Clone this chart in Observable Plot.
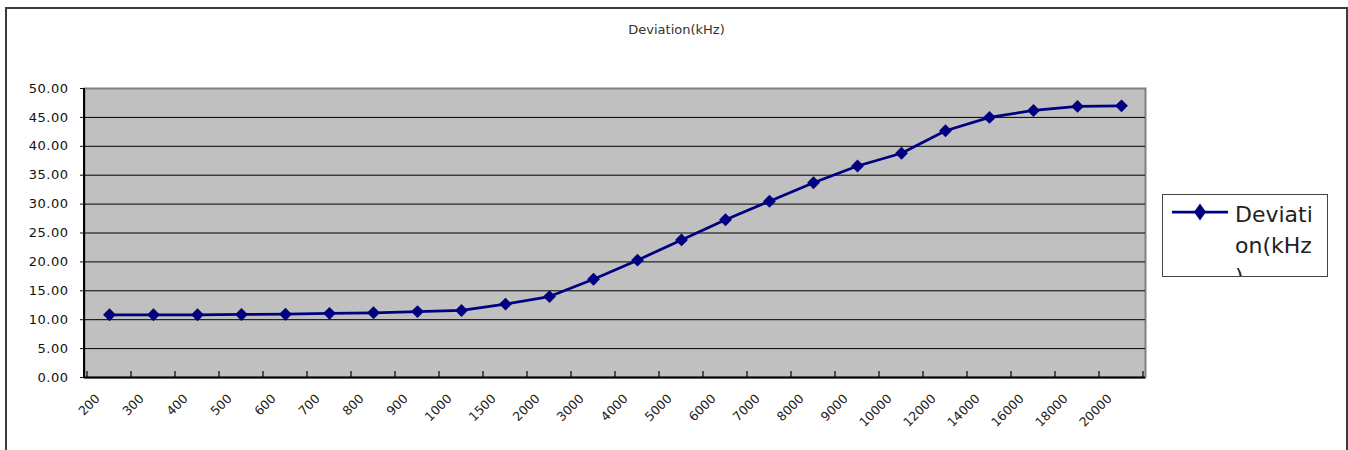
<!DOCTYPE html>
<html><head><meta charset="utf-8">
<script src="https://cdn.jsdelivr.net/npm/d3@7"></script>
<script src="https://cdn.jsdelivr.net/npm/@observablehq/plot@0.6"></script>
<style>
html,body{margin:0;padding:0;background:#fff;}
#wrap{position:relative;width:1348px;height:450px;overflow:hidden;font-family:"DejaVu Sans",sans-serif;}
#outer{position:absolute;left:5px;top:7px;width:1343px;height:470px;border:2px solid #3c3c3c;box-sizing:border-box;}
#title{position:absolute;left:5px;width:1343px;top:22px;text-align:center;font-size:13px;line-height:16px;color:#333;}
#chart{position:absolute;left:0;top:0;}
#legend{position:absolute;left:1162px;top:194px;width:166px;height:83px;box-sizing:border-box;border:1px solid #444;background:#fff;overflow:hidden;}
#legend svg{position:absolute;left:0;top:0;}
#legend .lbl{position:absolute;left:72px;top:4px;width:81px;font-size:22px;line-height:31px;color:#222;word-break:normal;line-break:anywhere;overflow-wrap:anywhere;}
#chart g[aria-label="y-axis tick label"] text{letter-spacing:0.5px;}
</style>
</head>
<body>
<div id="wrap">
  <div id="outer"></div>
  <div id="title"></div>
  <div id="chart"></div>
  <div id="legend"></div>
</div>
<script>
const freqLabels = ["200","300","400","500","600","700","800","900","1000","1500","2000","3000","4000","5000","6000","7000","8000","9000","10000","12000","14000","16000","18000","20000"];
const deviation = [10.85,10.85,10.85,10.9,10.95,11.1,11.2,11.4,11.6,12.7,14.0,17.0,20.3,23.8,27.3,30.5,33.7,36.6,38.8,42.7,45.0,46.2,46.9,47.0];
const yTicks = [0,5,10,15,20,25,30,35,40,45,50];
const gridValues = [5,10,15,20,25,30,35,40,45];
const titleText = "Deviation(kHz)";
const seriesName = "Deviation(kHz)";
const lineColor = "#000080";

const data = freqLabels.map((f, i) => ({freq: f, dev: deviation[i]}));

function axisFrame(index, scales, values, dims) {
  const x = scales.x;
  const bw = x.bandwidth();
  const y0 = dims.height - dims.marginBottom;
  const g = d3.create("svg:g").attr("stroke", "#000").attr("fill", "none");
  g.append("line")
    .attr("x1", dims.marginLeft).attr("x2", dims.marginLeft)
    .attr("y1", dims.marginTop).attr("y2", y0 + 1)
    .attr("stroke-width", 2);
  const bounds = freqLabels.map(c => x(c)).concat([x(freqLabels[freqLabels.length - 1]) + bw]);
  g.selectAll(".bt").data(bounds).join("line")
    .attr("x1", d => d).attr("x2", d => d)
    .attr("y1", y0).attr("y2", y0 - 6)
    .attr("stroke-width", 1.2);
  return g.node();
}

const chart = Plot.plot({
  width: 1348,
  height: 450,
  marginLeft: 84,
  marginRight: 203,
  marginTop: 88,
  marginBottom: 73,
  x: {type: "band", domain: freqLabels, padding: 0, axis: null},
  y: {domain: [0, 50]},
  style: {fontFamily: "DejaVu Sans, sans-serif", fontSize: "13px", color: "#111", background: "transparent", overflow: "visible"},
  marks: [
    Plot.frame({fill: "#c0c0c0", stroke: "#808080", strokeWidth: 2}),
    Plot.ruleY(gridValues, {stroke: "#000", strokeWidth: 1}),
    Plot.ruleY([0], {stroke: "#000", strokeWidth: 2}),
    axisFrame,
    Plot.axisY(yTicks, {tickSize: 4, tickPadding: 12, tickFormat: d => d.toFixed(2), fontSize: 13, label: null}),
    Plot.line(data, {x: "freq", y: "dev", stroke: lineColor, strokeWidth: 2.75}),
    Plot.dot(data, {x: "freq", y: "dev", symbol: "diamond2", r: 5.8, fill: lineColor, stroke: "none"}),
    Plot.text(freqLabels, {x: d => d, text: d => d, frameAnchor: "bottom", rotate: -45, textAnchor: "end", lineAnchor: "bottom", dx: -9, dy: 22, fontSize: 12.5, fill: "#222"})
  ]
});
document.getElementById("chart").appendChild(chart);
document.getElementById("title").textContent = titleText;

// legend
const legend = d3.select("#legend");
const ls = legend.append("svg").attr("width", 164).attr("height", 81);
ls.append("line").attr("x1", 9).attr("x2", 65).attr("y1", 17).attr("y2", 17)
  .attr("stroke", lineColor).attr("stroke-width", 2.75);
ls.append("path").attr("d", "M37,8.5L43,17L37,25.5L31,17Z").attr("fill", lineColor);
legend.append("div").attr("class", "lbl").text(seriesName);
</script>
</body></html>
